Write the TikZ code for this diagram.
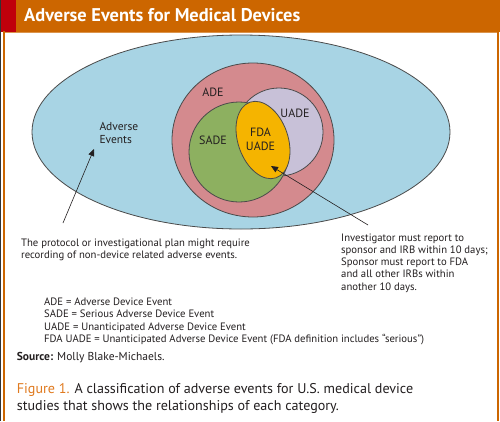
\documentclass[tikz,border=0pt]{standalone}
\usepackage{fontspec}
\setmainfont{PT Sans}
\usetikzlibrary{arrows.meta}
\definecolor{hdrorange}{HTML}{CC6600}
\definecolor{hdrred}{HTML}{C0000B}
\definecolor{capor}{HTML}{E07A1F}
\definecolor{txt}{HTML}{231F20}
\definecolor{skyb}{HTML}{A8D4E4}
\definecolor{pinkc}{HTML}{D48A8E}
\definecolor{greenc}{HTML}{8DB060}
\definecolor{purplec}{HTML}{C8C1D8}
\definecolor{yellowc}{HTML}{F5B400}
\definecolor{edge}{HTML}{4A4A4A}
\tikzset{
  setshape/.style={draw=edge, line width=0.8pt},
  lbl/.style={font=\fontsize{12}{13}\selectfont, text=txt, inner sep=0pt},
  body/.style={font=\fontsize{10.7}{12.5}\selectfont, text=txt, inner sep=0pt, align=left},
  note/.style={-{Triangle[length=7pt,width=6pt]}, line width=0.6pt, draw=txt},
}
\begin{document}
\begin{tikzpicture}[x=1pt,y=-1pt]
\useasboundingbox (0,0) rectangle (500,421);
\fill[white] (0,0) rectangle (500,421);
% header
\fill[hdrorange] (0,0) rectangle (500,31.5);
\fill[hdrorange!70!white] (4,31.5) rectangle (499,32.5);
\fill[hdrred] (1,0) rectangle (16,31.5);
\fill[black!80] (0,0) rectangle (1,421);
\fill[hdrorange] (3,31) rectangle (4.6,421);
\fill[hdrorange] (497,0) rectangle (499,421);
\node[anchor=base west, inner sep=0pt, text=white, font=\fontsize{18.4}{20}\selectfont\bfseries] (title) at (24,21.5) {Adverse Events for Medical Devices};
% sets
\path[setshape, fill=skyb] (241,132) ellipse [x radius=209, y radius=97];
\path[setshape, fill=pinkc] (253,140) ellipse [x radius=81, y radius=77];
\path[setshape, fill=purplec] (279,132) circle [radius=44];
\path[setshape, fill=greenc] (239,152) circle [radius=50];
\path[setshape, fill=yellowc] (263,140) ellipse [x radius=25, y radius=40, rotate=19];
% set labels
\node[lbl] (ade) at (213,92) {ADE};
\node[lbl] (uade) at (295,113.5) {UADE};
\node[lbl] (sade) at (213,140.5) {SADE};
\node[lbl, align=center, font=\fontsize{12}{14}\selectfont] (fda) at (260.5,139) {FDA\\UADE};
\node[body, anchor=base west, font=\fontsize{11.5}{13.3}\selectfont] (ae) at (99.3,130) {Adverse};
\node[body, anchor=base west, font=\fontsize{11.5}{13.3}\selectfont] (ae2) at (99.3,143.3) {Events};
% notes
\node[body, anchor=base west] (prot1) at (21,246.7) {The protocol or investigational plan might require};
\node[body, anchor=base west] (prot2) at (21,258.6) {recording of non-device related adverse events.};
\node[body, anchor=base west] (inv1) at (341,241) {Investigator must report to};
\node[body, anchor=base west] (inv2) at (341,253.3) {sponsor and IRB within 10 days;};
\node[body, anchor=base west] (inv3) at (341,265.6) {Sponsor must report to FDA};
\node[body, anchor=base west] (inv4) at (341,277.9) {and all other IRBs within};
\node[body, anchor=base west] (inv5) at (341,290.2) {another 10 days.};
\coordinate (p1) at (63,223);
\coordinate (p2) at (94,149);
\coordinate (q1) at (368,225);
\coordinate (q2) at (271,166);
\draw[note] (p1) -- (p2);
\draw[note] (q1) -- (q2);
% legend
\node[body, anchor=base west] (l1) at (44,305) {ADE = Adverse Device Event};
\node[body, anchor=base west] (l2) at (44,317.6) {SADE = Serious Adverse Device Event};
\node[body, anchor=base west] (l3) at (44,330.2) {UADE = Unanticipated Adverse Device Event};
\node[body, anchor=base west] (l4) at (44,342.8) {FDA UADE = Unanticipated Adverse Device Event (FDA definition includes “serious”)};
\node[body, anchor=base west, font=\fontsize{11.5}{13}\selectfont] (src) at (16.7,360.7) {\textbf{Source:} Molly Blake-Michaels.};
\node[anchor=base west, inner sep=0pt, text=txt, font=\fontsize{14.1}{16.7}\selectfont] (cap1) at (16.7,393.3) {\textcolor{capor}{Figure 1.} A classification of adverse events for U.S. medical device};
\node[anchor=base west, inner sep=0pt, text=txt, font=\fontsize{14.1}{16.7}\selectfont] (cap2) at (16.7,410) {studies that shows the relationships of each category.};
\end{tikzpicture}
\end{document}
